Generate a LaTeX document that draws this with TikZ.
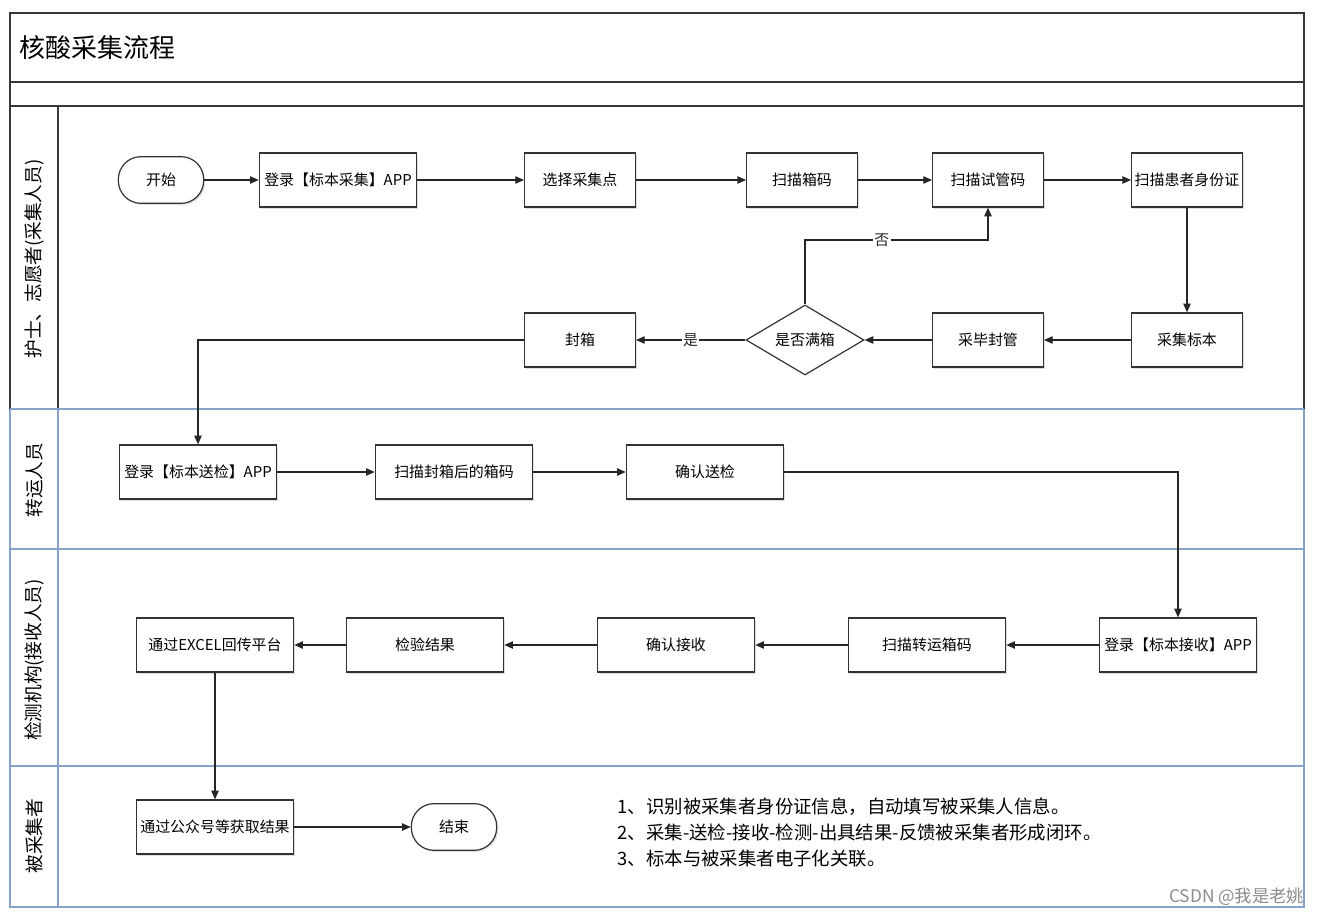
\documentclass[tikz,border=0pt]{standalone}
\usepackage{fontspec}
\newfontfamily\cjk{Noto Sans CJK SC}
\usetikzlibrary{arrows.meta,shapes.geometric,shadows}
\definecolor{laneblue}{RGB}{135,162,200}
\definecolor{framegray}{RGB}{55,55,55}

\begin{document}
\begin{tikzpicture}[x=0.75pt,y=-0.75pt,
    every node/.style={font=\cjk\fontsize{11.2}{13}\selectfont},
    box/.style={draw=black!80, line width=0.9pt, fill=white, inner sep=1pt,
      minimum height=40.5pt,
      drop shadow={opacity=0.25, shadow xshift=1.2pt, shadow yshift=-1.2pt}},
    smallbox/.style={box, minimum width=83pt},
    widebox/.style={box, minimum width=118pt},
    term/.style={box, rounded corners=17pt, minimum width=64pt, minimum height=35pt},
    decision/.style={diamond, aspect=1.7, draw=black!80, line width=0.9pt, fill=white,
      inner sep=0, minimum width=88.5pt, minimum height=52.5pt},
    flow/.style={-{Triangle[length=6.5pt,width=5.5pt]}, line width=0.9pt, black!85},
    lanelabel/.style={rotate=90, font=\cjk\fontsize{14}{16}\selectfont},
    frame/.style={line width=0.9pt, framegray},
    lane/.style={line width=0.9pt, laneblue}]
  \useasboundingbox[fill=white] (0,0) rectangle (1324,916);

  % pool and lanes
  \draw[frame] (10,409) -- (10,13) -- (1304,13) -- (1304,409);
  \draw[frame] (10,82) -- (1304,82);
  \draw[frame] (10,106) -- (1304,106);
  \draw[frame] (58,106) -- (58,409);
  \draw[lane] (10,409) -- (10,907) -- (1304,907) -- (1304,409);
  \draw[lane] (10,409) -- (1304,409);
  \draw[lane] (10,549) -- (1304,549);
  \draw[lane] (10,766) -- (1304,766);
  \draw[lane] (58,409) -- (58,907);

  \node[anchor=west, font=\cjk\fontsize{19.5}{22}\selectfont] (title) at (15,48) {核酸采集流程};
  \node[lanelabel] (nurse) at (34,259) {护士、志愿者(采集人员)};
  \node[lanelabel] (courier) at (34,480) {转运人员};
  \node[lanelabel] (lab) at (34,660) {检测机构(接收人员)};
  \node[lanelabel] (person) at (34,836) {被采集者};

  % collection
  \node[term] (start) at (161,180) {开始};
  \node[widebox] (login1) at (338,180) {登录【标本采集】APP};
  \node[smallbox] (site) at (580,180) {选择采集点};
  \node[smallbox] (boxcode) at (802,180) {扫描箱码};
  \node[smallbox] (tubecode) at (988,180) {扫描试管码};
  \node[smallbox] (idcard) at (1187,180) {扫描患者身份证};
  \node[smallbox] (sample) at (1187,340) {采集标本};
  \node[smallbox] (seal) at (988,340) {采毕封管};
  \node[decision] (full) at (805,340) {是否满箱};
  \node[smallbox] (closebox) at (580,340) {封箱};

  % transport
  \node[widebox] (login2) at (198,472) {登录【标本送检】APP};
  \node[widebox] (scanbox) at (454,472) {扫描封箱后的箱码};
  \node[widebox] (send) at (705,472) {确认送检};

  % lab
  \node[widebox] (login3) at (1178,645) {登录【标本接收】APP};
  \node[widebox] (scantrans) at (927,645) {扫描转运箱码};
  \node[widebox] (receive) at (676,645) {确认接收};
  \node[widebox] (result) at (425,645) {检验结果};
  \node[widebox] (excel) at (215,645) {通过EXCEL回传平台};

  % person
  \node[widebox] (wechat) at (215,827) {通过公众号等获取结果};
  \node[term] (end) at (454,827) {结束};
  \node[anchor=north west, align=left, font=\cjk\fontsize{13.8}{19.5}\selectfont] (notes) at (613,793)
    {1、识别被采集者身份证信息，自动填写被采集人信息。\\
     2、采集-送检-接收-检测-出具结果-反馈被采集者形成闭环。\\
     3、标本与被采集者电子化关联。};
  \node[anchor=east, text=black!45, font=\cjk\fontsize{13}{14}\selectfont] (mark) at (1309,897) {CSDN @我是老姚};

  \draw[flow] (start) -- (login1);
  \draw[flow] (login1) -- (site);
  \draw[flow] (site) -- (boxcode);
  \draw[flow] (boxcode) -- (tubecode);
  \draw[flow] (tubecode) -- (idcard);
  \draw[flow] (idcard) -- (sample);
  \draw[flow] (sample) -- (seal);
  \draw[flow] (seal) -- (full);
  \draw[flow] (full) -- node[fill=white, inner sep=1pt] {是} (closebox);
  \coordinate (nobend) at (805,240);
  \draw[flow] (full.north) -- (nobend) -| node[pos=0.21, fill=white, inner sep=1pt] {否} (tubecode.south);
  \draw[flow] (closebox.west) -| (login2.north);
  \draw[flow] (login2) -- (scanbox);
  \draw[flow] (scanbox) -- (send);
  \draw[flow] (send.east) -| (login3.north);
  \draw[flow] (login3) -- (scantrans);
  \draw[flow] (scantrans) -- (receive);
  \draw[flow] (receive) -- (result);
  \draw[flow] (result) -- (excel);
  \draw[flow] (excel) -- (wechat);
  \draw[flow] (wechat) -- (end);
\end{tikzpicture}
\end{document}
